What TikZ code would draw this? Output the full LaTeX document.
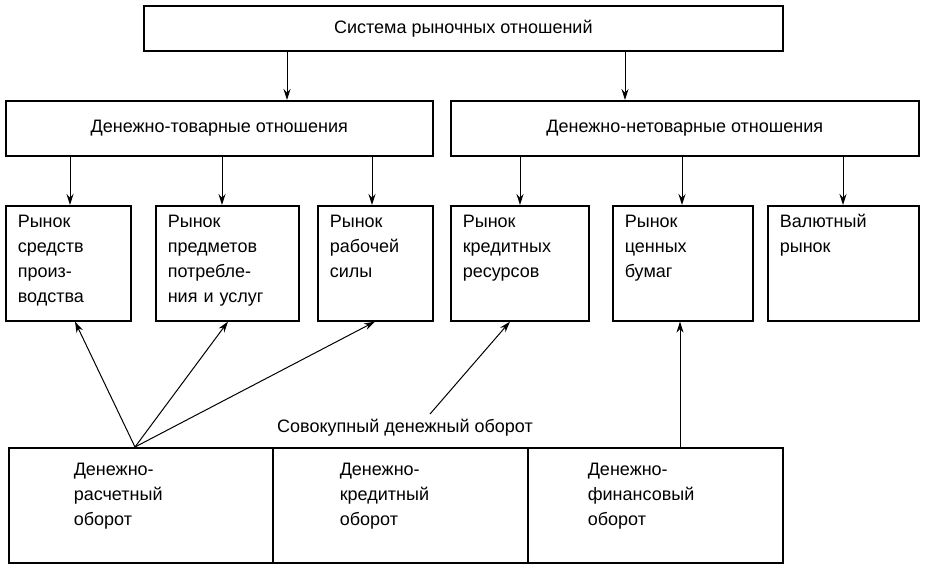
\documentclass[tikz,border=0pt]{standalone}
\usepackage{fontspec}
\setmainfont{Liberation Sans}
\usetikzlibrary{arrows.meta}
\tikzset{
  box/.style={draw, line width=1.6pt, anchor=north west, align=left,
    inner xsep=12pt, inner ysep=9pt, text height=13pt, text depth=84pt},
  wide/.style={draw, line width=1.6pt, anchor=north west, align=center,
    minimum height=55pt},
  arr/.style={line width=1pt, -{Stealth[length=11pt,width=7pt]}}
}
\begin{document}
\begin{tikzpicture}[x=1pt,y=-1pt,font=\fontsize{18}{25}\selectfont]
\useasboundingbox (0,0) rectangle (928,564);
% top level
\node[wide, minimum width=639pt, minimum height=45pt] (sys) at (143,5) {Система рыночных отношений};
\node[wide, minimum width=427pt] (tov) at (5,100) {Денежно-товарные отношения};
\node[wide, minimum width=468pt] (ntov) at (450,100) {Денежно-нетоварные отношения};
\draw[arr] (sys.south -| 287,0) -- (tov.north -| 287,0);
\draw[arr] (sys.south -| 625,0) -- (ntov.north -| 625,0);

% markets
\node[box, text width=101pt] (r1) at (5,205) {Рынок\\средств\\произ-\\водства};
\node[box, text width=119pt] (r2) at (155,205) {Рынок\\предметов\\потребле-\\ния и услуг};
\node[box, text width=91pt] (r3) at (317,205) {Рынок\\рабочей\\силы};
\node[box, text width=114pt] (r4) at (450,205) {Рынок\\кредитных\\ресурсов};
\node[box, text width=116pt] (r5) at (612,205) {Рынок\\ценных\\бумаг};
\node[box, text width=127pt] (r6) at (767,205) {Валютный\\рынок};
\foreach \n/\x in {r1/70,r2/222,r3/372} {
  \draw[arr] (tov.south -| \x,0) -- (\n.north -| \x,0);
}
\foreach \n/\x in {r4/520,r5/682,r6/843} {
  \draw[arr] (ntov.south -| \x,0) -- (\n.north -| \x,0);
}

% turnover
\node (sum) at (405,428) {Совокупный денежный оборот};
\node[box, text width=134pt, inner xsep=65pt, inner ysep=15pt, text depth=72pt] (o1) at (8,447) {Денежно-\\расчетный\\оборот};
\node[box, text width=121pt, inner xsep=67pt, inner ysep=15pt, text depth=72pt] (o2) at (272,447) {Денежно-\\кредитный\\оборот};
\node[box, text width=135pt, inner xsep=60pt, inner ysep=15pt, text depth=72pt] (o3) at (527,447) {Денежно-\\финансовый\\оборот};

\coordinate (src) at (135,447);
\coordinate (src2) at (430,414);
\draw[arr] (src) -- (r1.south -| 75,0);
\draw[arr] (src) -- (r2.south -| 228,0);
\draw[arr] (src) -- (r3.south -| 375,0);
\draw[arr] (src2) -- (r4.south -| 510,0);
\draw[arr] (o3.north -| 680,0) -- (r5.south -| 680,0);
\end{tikzpicture}
\end{document}
